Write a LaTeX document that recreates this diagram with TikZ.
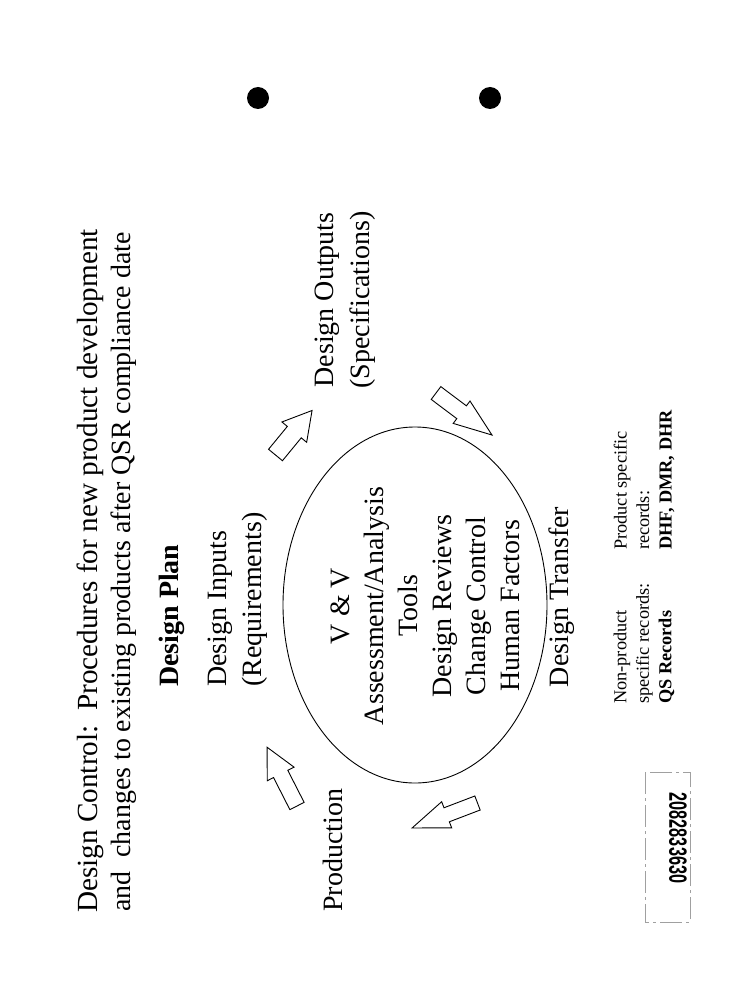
\documentclass[tikz,border=0pt]{standalone}
\usepackage{fontspec}
\usepackage{graphicx}
\setmainfont{Liberation Serif}
\newfontfamily\stampFont{Liberation Sans}
\usetikzlibrary{shapes.geometric}
\tikzstyle{slide} = [x = 1pt, y = -1pt]
\tikzstyle{slideText} = [inner sep = 0, rotate = 90, font = \fontsize{28}{34}\selectfont]
\tikzstyle{titleText} = [inner sep = 0, rotate = 90, anchor = west]
\tikzstyle{recordText} = [inner sep = 0, rotate = 90, anchor = west, align = left, font = \fontsize{18.3}{22.5}\selectfont]
\tikzstyle{cycleArrow} = [draw = black, fill = white, line width = .9pt, line join = miter]
\tikzstyle{ringStyle} = [draw = black, ellipse, line width = .9pt, inner sep = 0]
\definecolor{stampGray}{RGB}{160,160,160}
\tikzstyle{stampBox} = [draw = stampGray, line width = .6pt, dash pattern = on 22pt off 4pt on 3pt off 4pt]
\newcommand{\blockArrow}[7]{
  \begin{scope}[shift = {(#1,#2)}, rotate = #3]
    \filldraw [cycleArrow] (0, #6/2) -- (#4-#5, #6/2) -- (#4-#5, #7/2) -- (#4, 0)
      -- (#4-#5, -#7/2) -- (#4-#5, -#6/2) -- (0, -#6/2) -- cycle;
  \end{scope}
}
\newcommand{\punchHole}[2]{\fill [black] (#1,#2) circle [radius = 11];}

\begin{document}
\begin{tikzpicture}[slide]
        \fill [white] (0,0) rectangle (754,1000);
        \useasboundingbox (0,0) rectangle (754,1000);
        \punchHole{258}{98}
        \punchHole{490}{98}

        \node [titleText, font = \fontsize{29.2}{33}\selectfont] (titleTop) at (90,913) {Design Control:\ \ Procedures for new product development};
        \node [titleText, font = \fontsize{27.9}{33}\selectfont] (titleBottom) at (124,912) {and\ \ changes to existing products after QSR compliance date};

        \node [slideText, anchor = west, font = \fontsize{28}{34}\selectfont\bfseries] (plan) at (172,687) {Design Plan};
        \node [slideText, anchor = west, align = left, font = \fontsize{28}{35}\selectfont] (inputs) at (237.5,687) {Design Inputs\\(Requirements)};
        \node [slideText, align = center, font = \fontsize{28}{36}\selectfont] (outputs) at (345,300) {Design Outputs\\(Specifications)};
        \node [ringStyle, minimum width = 264pt, minimum height = 356pt] (ring) at (415,605) {};
        \node [slideText, align = center] (ringText) at (425,606) {V \& V\\Assessment/Analysis\\Tools\\Design Reviews\\Change Control\\Human Factors};
        \node [slideText] (transfer) at (562,597) {Design Transfer};
        \node [slideText, anchor = west] (production) at (333,912) {Production};

        \blockArrow{275.5}{455}{50.6}{57.6}{28}{18}{32}
        \blockArrow{436}{393}{-36.9}{70}{38}{16}{28}
        \blockArrow{477.5}{803}{200.9}{70}{37}{15}{28}
        \blockArrow{297}{806}{117}{66}{30}{16}{30}

        \node [recordText] (nonProduct) at (644,704) {Non-product\\specific records:\\\textbf{QS Records}};
        \node [recordText] (product) at (644,550) {Product specific\\records:\\\textbf{DHF, DMR, DHR}};

        \draw [stampBox] (645,772) rectangle (690,922);
        \node [inner sep = 0, rotate = -90, font = \stampFont\fontsize{25}{25}\selectfont\bfseries] (stamp) at (678,838) {\scalebox{0.65}[1]{2082833630}};
      \end{tikzpicture}
\end{document}
